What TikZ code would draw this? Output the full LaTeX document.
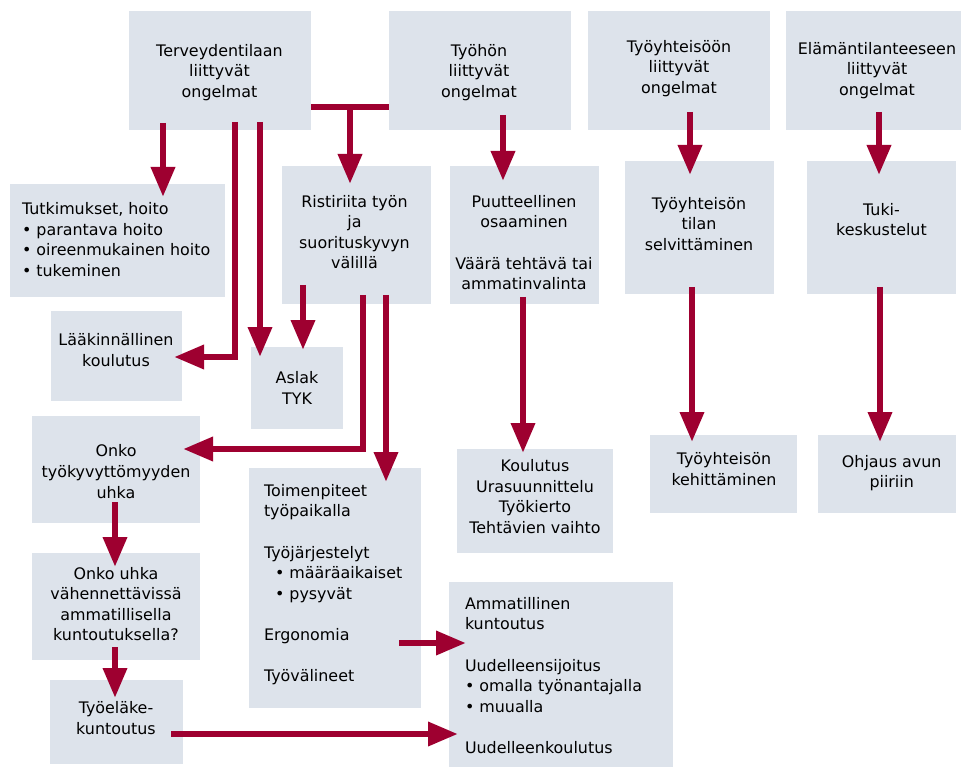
\documentclass[tikz,border=0pt]{standalone}
\usepackage{fontspec}
\setmainfont{DejaVu Sans}
\usetikzlibrary{arrows.meta,fit}
\definecolor{boxfill}{RGB}{221,227,235}
\definecolor{arrred}{RGB}{158,0,48}
\tikzset{
  box/.style={fill=boxfill, inner sep=0pt, outer sep=0pt},
  txt/.style={inner sep=0pt, outer sep=0pt, align=center, font=\fontsize{15.9}{20.6}\selectfont,
    execute at begin node=\strut, execute at end node=\strut, yshift=-3pt},
  ltxt/.style={txt, align=left, anchor=west},
  arr/.style={draw=arrred, line width=6.5pt, -{Triangle[width=23pt,length=30pt]}},
  tbar/.style={draw=arrred, line width=6.5pt},
}
\begin{document}
\begin{tikzpicture}[x=1pt,y=-1pt]
\useasboundingbox (0,0) rectangle (961,767);
% boxes
\node[box, fit={(129,11) (311,130)}] (b1) {};
\node[box, fit={(389,11) (571,130)}] (b2) {};
\node[box, fit={(588,11) (770,130)}] (b3) {};
\node[box, fit={(786,11) (961,130)}] (b4) {};
\node[box, fit={(10,184) (225,297)}] (b5) {};
\node[box, fit={(282,166) (431,304)}] (b6) {};
\node[box, fit={(450,166) (599,304)}] (b7) {};
\node[box, fit={(625,161) (774,294)}] (b8) {};
\node[box, fit={(807,161) (956,294)}] (b9) {};
\node[box, fit={(51,311) (182,401)}] (b10) {};
\node[box, fit={(251,347) (343,429)}] (b11) {};
\node[box, fit={(32,416) (200,523)}] (b12) {};
\node[box, fit={(32,553) (200,660)}] (b13) {};
\node[box, fit={(50,680) (183,764)}] (b14) {};
\node[box, fit={(249,468) (421,708)}] (b15) {};
\node[box, fit={(457,449) (613,553)}] (b16) {};
\node[box, fit={(449,582) (673,767)}] (b17) {};
\node[box, fit={(650,435) (797,513)}] (b18) {};
\node[box, fit={(818,435) (956,513)}] (b19) {};
% texts
\node[txt] (t1) at (219.5,71) {Terveydentilaan\\liittyvät\\ongelmat};
\node[txt] (t2) at (479,71) {Työhön\\liittyvät\\ongelmat};
\node[txt] (t3) at (679,67) {Työyhteisöön\\liittyvät\\ongelmat};
\node[txt] (t4) at (877,69) {Elämäntilanteeseen\\liittyvät\\ongelmat};
\node[ltxt] (t5) at (22,239.5) {Tutkimukset, hoito\\• parantava hoito\\• oireenmukainen hoito\\• tukeminen};
\node[txt] (t6) at (354.5,232) {Ristiriita työn\\ja\\suorituskyvyn\\välillä};
\node[txt] (t7) at (524,242.5) {Puutteellinen\\osaaminen\\[20.6pt]Väärä tehtävä tai\\ammatinvalinta};
\node[txt] (t8) at (699,224) {Työyhteisön\\tilan\\selvittäminen};
\node[txt] (t9) at (881.5,219.5) {Tuki-\\keskustelut};
\node[txt] (t10) at (116,350) {Lääkinnällinen\\koulutus};
\node[txt] (t11) at (297,388) {Aslak\\TYK};
\node[txt] (t12) at (116,471.5) {Onko\\työkyvyttömyyden\\uhka};
\node[txt] (t13) at (116,604) {Onko uhka\\vähennettävissä\\ammatillisella\\kuntoutuksella?};
\node[txt] (t14) at (116,718) {Työeläke-\\kuntoutus};
\node[ltxt] (t15) at (264,583) {Toimenpiteet\\työpaikalla\\[20.6pt]Työjärjestelyt\\\hspace*{11pt}• määräaikaiset\\\hspace*{11pt}• pysyvät\\[20.6pt]Ergonomia\\[20.6pt]Työvälineet};
\node[txt] (t16) at (535,496.5) {Koulutus\\Urasuunnittelu\\Työkierto\\Tehtävien vaihto};
\node[ltxt] (t17) at (465,675.5) {Ammatillinen\\kuntoutus\\[20.6pt]Uudelleensijoitus\\• omalla työnantajalla\\• muualla\\[20.6pt]Uudelleenkoulutus};
\node[txt] (t18) at (724,469) {Työyhteisön\\kehittäminen};
\node[txt] (t19) at (891.7,471.5) {Ohjaus avun\\piiriin};
% connectors
\draw[arr] ([shift={(34,-7)}]b1.south west) -- ([shift={(153,13)}]b5.north west);
\draw[arr] ([shift={(106,-8)}]b1.south west) |- ([shift={(123,46)}]b10.north west);
\draw[arr] ([shift={(131,-8)}]b1.south west) -- ([shift={(9,10)}]b11.north west);
\draw[tbar] ([shift={(0,-23)}]b1.south east) -- ([shift={(0,-23)}]b2.south west);
\coordinate (tj) at ([shift={(39,-23)}]b1.south east);
\draw[arr] (tj) -- ([shift={(68,18)}]b6.north west);
\draw[arr] ([shift={(114,-15)}]b2.south west) -- ([shift={(53,15)}]b7.north west);
\draw[arr] ([shift={(102,-18)}]b3.south west) -- ([shift={(65,14)}]b8.north west);
\draw[arr] ([shift={(93,-18)}]b4.south west) -- ([shift={(72,14)}]b9.north west);
\draw[arr] ([shift={(67,-7)}]b8.south west) -- ([shift={(42,7)}]b18.north west);
\draw[arr] ([shift={(73,-7)}]b9.south west) -- ([shift={(62,7)}]b19.north west);
\draw[arr] ([shift={(73,-7)}]b7.south west) -- ([shift={(66,4)}]b16.north west);
\draw[arr] ([shift={(21,-19)}]b6.south west) -- ([shift={(52,3)}]b11.north west);
\draw[arr] ([shift={(81,-9)}]b6.south west) |- ([shift={(-17,33)}]b12.north east);
\draw[arr] ([shift={(104,-9)}]b6.south west) -- ([shift={(137,14)}]b15.north west);
\draw[arr] ([shift={(83,-21)}]b12.south west) -- ([shift={(83,14)}]b13.north west);
\draw[arr] ([shift={(83,-13)}]b13.south west) -- ([shift={(65,18)}]b14.north west);
\draw[arr] ([shift={(-12,-30)}]b14.south east) -- ([shift={(9,152)}]b17.north west);
\draw[arr] ([shift={(-22,175)}]b15.north east) -- ([shift={(17,61)}]b17.north west);
\end{tikzpicture}
\end{document}
